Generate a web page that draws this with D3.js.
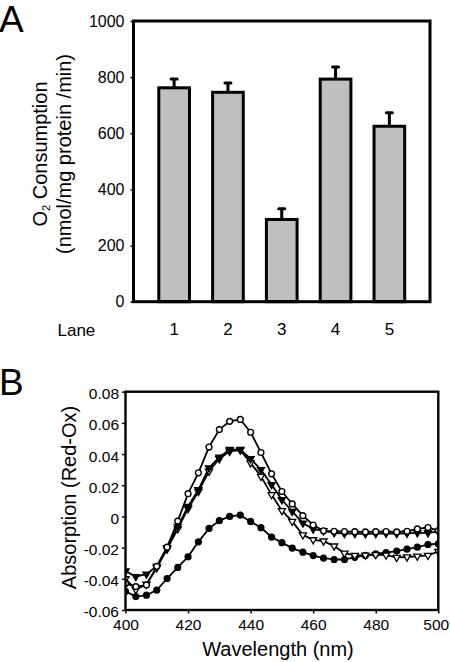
<!DOCTYPE html>
<html><head><meta charset="utf-8">
<script src="https://cdn.jsdelivr.net/npm/d3@7"></script>
<style>
body{margin:0;background:#fff}
svg{display:block}
svg text{font-family:"Liberation Sans",Arial,Helvetica,sans-serif !important;fill:#000}
</style></head>
<body><svg id="c" width="450" height="662"></svg>
<script>
// ---------- Panel A data ----------
const lanes = ["1", "2", "3", "4", "5"];
const o2Consumption = [762, 746, 293, 793, 625];
const o2Error = [33, 35, 40, 45, 50];
const yTicksA = [0, 200, 400, 600, 800, 1000];

// ---------- Panel B data ----------
const wavelengths = [400, 403.3, 406.7, 410, 413.3, 416.7, 420, 423.3, 426.7, 430, 433.3, 436.7, 440, 443.3, 446.7, 450,
  453.3, 456.7, 460, 463.3, 466.7, 470, 473.3, 476.7, 480, 483.3, 486.7, 490, 493.3, 496.7, 500];
const seriesOpenCircle = [-0.043, -0.045, -0.044, -0.032, -0.0197, -0.003, 0.0146, 0.028, 0.0445, 0.0557, 0.061, 0.0622,
  0.054, 0.041, 0.0273, 0.016, 0.008, 0.0005, -0.0055, -0.0092, -0.0095, -0.0097, -0.0098, -0.0099, -0.0098, -0.0097,
  -0.0099, -0.0095, -0.008, -0.0071, -0.009];
const seriesFilledTriangle = [-0.035, -0.0386, -0.037, -0.032, -0.020, -0.0064, 0.0064, 0.0172, 0.0311, 0.038, 0.0429,
  0.0429, 0.037, 0.030, 0.0204, 0.0107, 0.0032, -0.0043, -0.0081, -0.0092, -0.0105, -0.011, -0.011, -0.0112, -0.011,
  -0.0108, -0.011, -0.0108, -0.0105, -0.0105, -0.0098];
const seriesOpenTriangle = [-0.040, -0.047, -0.0435, -0.033, -0.021, -0.008, 0.005, 0.016, 0.029, 0.037, 0.0418, 0.0425,
  0.0343, 0.0257, 0.014, 0.0037, -0.0032, -0.0118, -0.015, -0.0158, -0.019, -0.0236, -0.025, -0.0248, -0.0245, -0.0248,
  -0.0263, -0.026, -0.0255, -0.025, -0.0225];
const seriesFilledCircle = [-0.048, -0.0514, -0.0505, -0.0472, -0.0398, -0.0327, -0.0259, -0.0163, -0.0077, -0.0027,
  0.0, 0.0008, -0.0032, -0.0072, -0.0132, -0.0168, -0.0203, -0.0229, -0.0251, -0.0267, -0.0276, -0.0276, -0.0262, -0.025,
  -0.024, -0.0232, -0.0222, -0.021, -0.0197, -0.018, -0.0175];
const yTicksB = [-0.06, -0.04, -0.02, 0, 0.02, 0.04, 0.06, 0.08];
const xTicksB = [400, 420, 440, 460, 480, 500];

const FONT = '"Liberation Sans", Arial, Helvetica, sans-serif';
const svg = d3.select("#c");

// ================= Panel A =================
const A = {l: 133.5, r: 430, t: 21, b: 301.7};
const xA = d3.scaleBand().domain(lanes).range([A.l, A.r]).paddingInner(0.43).paddingOuter(0.47);
const yA = d3.scaleLinear().domain([0, 1000]).range([A.b, A.t]);

const gA = svg.append("g");
gA.selectAll("rect.bar").data(lanes).join("rect")
  .attr("class", "bar")
  .attr("x", d => xA(d))
  .attr("width", xA.bandwidth())
  .attr("y", (d, i) => yA(o2Consumption[i]))
  .attr("height", (d, i) => yA(0) - yA(o2Consumption[i]))
  .attr("fill", "#bfbfbf").attr("stroke", "#000").attr("stroke-width", 3);
gA.selectAll("line.err").data(lanes).join("line")
  .attr("x1", d => xA(d) + xA.bandwidth() / 2).attr("x2", d => xA(d) + xA.bandwidth() / 2)
  .attr("y1", (d, i) => yA(o2Consumption[i]))
  .attr("y2", (d, i) => yA(o2Consumption[i] + o2Error[i]))
  .attr("stroke", "#000").attr("stroke-width", 3);
gA.selectAll("line.cap").data(lanes).join("line")
  .attr("x1", d => xA(d) + xA.bandwidth() / 2 - 3).attr("x2", d => xA(d) + xA.bandwidth() / 2 + 3)
  .attr("y1", (d, i) => yA(o2Consumption[i] + o2Error[i]) + 0.5)
  .attr("y2", (d, i) => yA(o2Consumption[i] + o2Error[i]) + 0.5)
  .attr("stroke", "#000").attr("stroke-width", 3).attr("stroke-linecap", "round");
gA.append("rect").attr("x", A.l).attr("y", A.t).attr("width", A.r - A.l).attr("height", A.b - A.t)
  .attr("fill", "none").attr("stroke", "#000").attr("stroke-width", 3);
const axA = gA.append("g").attr("transform", `translate(${A.l - 1},0)`)
  .call(d3.axisLeft(yA).tickValues(yTicksA).tickSize(2).tickPadding(6).tickFormat(d3.format("d")));
axA.attr("font-family", FONT);
axA.select(".domain").remove();
axA.selectAll(".tick line").attr("stroke-width", 1.5);
axA.selectAll("text").style("font-size", "16px").style("font-family", FONT);
const axLane = gA.append("g").attr("transform", `translate(0,${A.b})`)
  .call(d3.axisBottom(xA).tickSize(0).tickPadding(21));
axLane.attr("font-family", FONT);
axLane.select(".domain").remove();
axLane.selectAll("text").style("font-size", "17px").style("font-family", FONT);
gA.append("text").attr("x", 57.5).attr("y", 335.5).style("font-size", "17px").style("font-family", FONT).text("Lane");
const tA1 = gA.append("text").attr("transform", "translate(47,154) rotate(-90)")
  .attr("text-anchor", "middle").style("font-size", "20px").style("font-family", FONT);
tA1.append("tspan").text("O");
tA1.append("tspan").style("font-size", "11px").attr("dy", 3).text("2");
tA1.append("tspan").attr("dy", -3).text(" Consumption");
gA.append("text").attr("transform", "translate(71,154) rotate(-90)")
  .attr("text-anchor", "middle").style("font-size", "20px").style("font-family", FONT).text("(nmol/mg protein /min)");
svg.append("text").attr("x", -1).attr("y", 32).style("font-size", "37px").style("font-family", FONT).text("A");

// ================= Panel B =================
const B = {l: 125.5, r: 438.3, t: 391.7, b: 610};
const xB = d3.scaleLinear().domain([400, 500]).range([B.l, B.r]);
const yB = d3.scaleLinear().domain([-0.06, 0.08]).range([B.b, B.t]);
const gB = svg.append("g");
svg.append("defs").append("clipPath").attr("id", "clipB")
  .append("rect").attr("x", B.l).attr("y", B.t).attr("width", B.r - B.l).attr("height", B.b - B.t);

const series = [
  {vals: seriesFilledCircle, sym: "circle", fill: "#000"},
  {vals: seriesOpenTriangle, sym: "tri", fill: "#fff"},
  {vals: seriesFilledTriangle, sym: "tri", fill: "#000"},
  {vals: seriesOpenCircle, sym: "circle", fill: "#fff"}
];
const plotB = gB.append("g").attr("clip-path", "url(#clipB)");
const line = d3.line().x((d, i) => xB(wavelengths[i])).y(d => yB(d));
series.forEach(s => {
  plotB.append("path").attr("d", line(s.vals)).attr("fill", "none")
    .attr("stroke", "#000").attr("stroke-width", 1.8).attr("stroke-linejoin", "round");
});
const triPath = d3.symbol().type(d3.symbolTriangle).size(22)();
series.forEach(s => {
  const pts = plotB.append("g").selectAll("g").data(s.vals).join("g")
    .attr("transform", (d, i) => `translate(${xB(wavelengths[i])},${yB(d)})`);
  if (s.sym === "circle") {
    pts.append("circle").attr("r", 2.9).attr("fill", s.fill).attr("stroke", "#000").attr("stroke-width", 1.4);
  } else {
    pts.append("path").attr("d", triPath).attr("transform", "rotate(180)")
      .attr("fill", s.fill).attr("stroke", "#000").attr("stroke-width", 1.3);
  }
});
gB.append("rect").attr("x", B.l).attr("y", B.t).attr("width", B.r - B.l).attr("height", B.b - B.t)
  .attr("fill", "none").attr("stroke", "#000").attr("stroke-width", 2.4);
const axBy = gB.append("g").attr("transform", `translate(${B.l - 1},0)`)
  .call(d3.axisLeft(yB).tickValues(yTicksB).tickSize(2.5).tickPadding(3)
    .tickFormat(d => d === 0 ? "0" : d3.format(".2f")(d).replace("\u2212", "-")));
axBy.attr("font-family", FONT);
axBy.select(".domain").remove();
axBy.selectAll(".tick line").attr("stroke-width", 1.5);
axBy.selectAll("text").style("font-size", "15.5px").style("font-family", FONT).attr("dy", "0.45em");
const axBx = gB.append("g").attr("transform", `translate(0,${B.b + 1})`)
  .call(d3.axisBottom(xB).tickValues(xTicksB).tickSize(2.5).tickPadding(5).tickFormat(d3.format("d")));
axBx.attr("font-family", FONT);
axBx.select(".domain").remove();
axBx.selectAll(".tick line").attr("stroke-width", 1.5);
axBx.selectAll("text").style("font-size", "15.5px").style("font-family", FONT)
  .attr("dx", d => d === 500 ? -2.5 : 0);
gB.append("text").attr("x", 278).attr("y", 656).attr("text-anchor", "middle")
  .style("font-size", "20px").style("font-family", FONT).text("Wavelength (nm)");
gB.append("text").attr("transform", "translate(76,497.5) rotate(-90)").attr("text-anchor", "middle")
  .style("font-size", "20px").style("font-family", FONT).text("Absorption (Red-Ox)");
svg.append("text").attr("x", -1).attr("y", 395).style("font-size", "37px").style("font-family", FONT).text("B");
</script></body></html>
